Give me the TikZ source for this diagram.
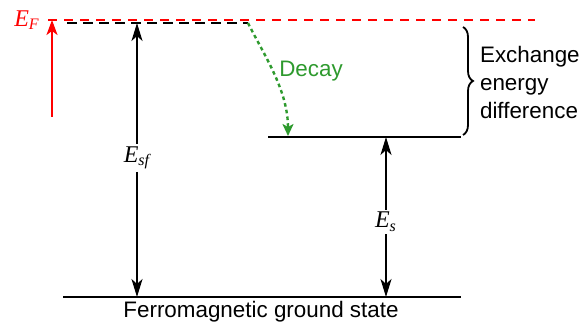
\documentclass[tikz,border=0pt]{standalone}
\usepackage{fontspec}
\setmainfont{Liberation Sans}
\newfontfamily\symfont{Liberation Serif}
\usetikzlibrary{arrows.meta,positioning,decorations.pathreplacing}
\definecolor{Red}{HTML}{FF0000}
\definecolor{Green}{HTML}{2E9A2E}

\begin{document}
\begin{tikzpicture}[x=0.5pt,y=-0.5pt,
    level/.style={line width=1.25pt},
    fermi/.style={line width=1.25pt,Red,dash pattern=on 4.5pt off 3.5pt},
    spin/.style={line width=1.25pt,black,dash pattern=on 5pt off 3pt,dash phase=-2pt},
    arr/.style={-{Stealth[length=9pt,width=5.5pt,inset=2.5pt]},line width=1.1pt},
    rarr/.style={-{Stealth[length=7.5pt,width=5.5pt,inset=2pt]},line width=1.1pt,Red},
    decay/.style={-{Stealth[length=6pt,width=5.5pt,inset=1.5pt]},line width=1.2pt,Green,
      dash pattern=on 1.8pt off 1.6pt},
    sym/.style={font=\symfont\itshape\fontsize{12}{14}\selectfont,inner sep=1pt},
    lbl/.style={font=\fontsize{11.2}{14}\selectfont},
    brace/.style={decorate,decoration={brace,amplitude=5pt},line width=0.9pt}
  ]
    \useasboundingbox (0,0) rectangle (585,326);
    % energy levels
    \coordinate (fl) at (48,20);
    \coordinate (fr) at (535,20);
    \coordinate (sl) at (63,23);
    \coordinate (sr) at (248,23);
    \coordinate (el) at (268,137);
    \coordinate (er) at (461,137);
    \coordinate (gl) at (63,297);
    \coordinate (gr) at (461,297);
    \draw[level] (el) -- (er);
    \draw[level] (gl) -- (gr);
    \draw[spin] (sl) -- (sr);
    \draw[fermi] (fl) -- (fr);
    % labels
    \node[sym,text=Red] (ef) at (27,20) {E\textsubscript{F}};
    \node[sym] (esf) at (137,158) {E\textsubscript{sf}};
    \node[sym] (es) at (386,222) {E\textsubscript{s}};
    \node[lbl,text=Green] (dlab) at (311,71) {Decay};
    \node[lbl] (gnd) at (261,312) {Ferromagnetic ground state};
    \node[lbl,align=left,anchor=west] (exch) at (473,82) {Exchange\\energy\\difference};
    % arrows
    \coordinate (rb) at (52,117);
    \draw[rarr] (rb) -- (rb |- fl);
    \draw[arr] (esf.north) -- (esf |- sl);
    \draw[arr] (esf.south) -- (esf |- gl);
    \draw[arr] (es.north) -- (es |- el);
    \draw[arr] (es.south) -- (es |- gl);
    \coordinate (dk) at (288,136);
    \draw[decay] (sr) .. controls (264,55) and (288,90) .. (dk);
    % exchange brace
    \coordinate (bt) at (463,27);
    \coordinate (bb) at (463,135);
    \draw[brace] (bt) -- (bb);
  \end{tikzpicture}
\end{document}
